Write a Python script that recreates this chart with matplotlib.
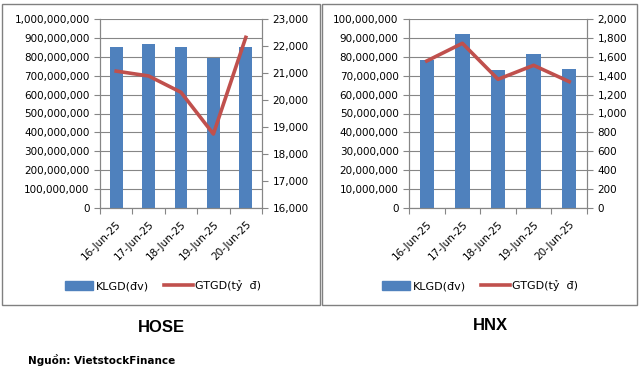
import matplotlib.pyplot as plt
from matplotlib.patches import Rectangle, Patch
from matplotlib.lines import Line2D
from matplotlib.ticker import FuncFormatter, MultipleLocator

# data
dates = ['16-Jun-25', '17-Jun-25', '18-Jun-25', '19-Jun-25', '20-Jun-25']
hose_klgd = [852e6, 868e6, 852e6, 794e6, 852e6]
hose_gtgd = [21070, 20890, 20285, 18740, 22320]
hnx_klgd = [78.3e6, 92.2e6, 73.0e6, 81.5e6, 73.5e6]
hnx_gtgd = [1556, 1743, 1362, 1510, 1337]

W, H = 639, 373
bar_c = '#4F81BD'
line_c = '#C0504D'
grid_c = '#868686'
fs = 7.5

plt.rcParams['font.family'] = ['DejaVu Sans']

fig = plt.figure(figsize=(W / 100, H / 100), dpi=100)

def px_axes(x0, y0, x1, y1):
    return fig.add_axes([x0 / W, 1 - y1 / H, (x1 - x0) / W, (y1 - y0) / H])

fmt = FuncFormatter(lambda v, p: f'{v:,.0f}')

def panel(x0, x1, klgd, gtgd, ymax, ystep, r_lo, r_hi, r_step, bw):
    ax = px_axes(x0, 19, x1, 208)
    x = list(range(len(dates)))
    ax.bar(x, klgd, width=bw, color=bar_c, zorder=3)
    ax.set_xlim(-0.5, len(dates) - 0.5)
    ax.set_ylim(0, ymax)
    ax.yaxis.set_major_locator(MultipleLocator(ystep))
    ax.yaxis.set_major_formatter(fmt)
    ax.grid(axis='y', color=grid_c, linewidth=0.8, zorder=0)
    # category boundary ticks like excel, labels at centres
    ax.set_xticks([i - 0.5 for i in range(len(dates) + 1)])
    ax.set_xticklabels([])
    ax.set_xticks(x, minor=True)
    ax.set_xticklabels(dates, minor=True, rotation=45, ha='right',
                       rotation_mode='anchor', fontsize=fs)
    ax.tick_params(axis='x', which='minor', length=0, pad=8)
    ax.tick_params(axis='x', which='major', length=4, color=grid_c)
    ax.tick_params(axis='y', labelsize=fs, length=4, color=grid_c)
    ax.spines['top'].set_visible(False)
    for s in ['left', 'right', 'bottom']:
        ax.spines[s].set_color(grid_c)

    ax2 = ax.twinx()
    ax2.plot(x, gtgd, color=line_c, linewidth=2.6, zorder=4)
    ax2.set_ylim(r_lo, r_hi)
    ax2.yaxis.set_major_locator(MultipleLocator(r_step))
    ax2.yaxis.set_major_formatter(fmt)
    ax2.tick_params(axis='y', labelsize=fs, length=4, color=grid_c)
    ax2.spines['top'].set_visible(False)
    for s in ['left', 'right', 'bottom']:
        ax2.spines[s].set_color(grid_c)
    return ax

panel(100, 262, hose_klgd, hose_gtgd, 1e9, 1e8, 16000, 23000, 1000, 0.39)
panel(409, 587, hnx_klgd, hnx_gtgd, 1e8, 1e7, 0, 2000, 200, 0.4)

# panel borders
for (a, b) in [(2, 320), (322, 637)]:
    fig.patches.append(Rectangle((a / W, 1 - 305 / H), (b - a) / W, (305 - 4) / H,
                                 transform=fig.transFigure, fill=False,
                                 edgecolor='#808080', linewidth=1))

handles = [Patch(color=bar_c), Line2D([], [], color=line_c, linewidth=2.6)]
labels = ['KLGD(đv)', 'GTGD(tỷ  đ)']
for cx in [163, 480]:
    fig.legend(handles, labels, loc='center', bbox_to_anchor=(cx / W, 1 - 286 / H),
               ncol=2, frameon=False, fontsize=8, handlelength=2.6,
               handleheight=0.8, columnspacing=1.4, handletextpad=0.2)

fig.text(161 / W, 1 - 328 / H, 'HOSE', ha='center', va='center', fontsize=12,
         fontweight='bold', family=['Liberation Sans', 'DejaVu Sans'])
fig.text(490 / W, 1 - 326 / H, 'HNX', ha='center', va='center', fontsize=12,
         fontweight='bold', family=['Liberation Sans', 'DejaVu Sans'])
fig.text(28 / W, 1 - 360 / H, 'Nguồn: VietstockFinance', ha='left', va='center',
         fontsize=7.5, fontweight='bold')

fig.savefig('out.png', dpi=100)
